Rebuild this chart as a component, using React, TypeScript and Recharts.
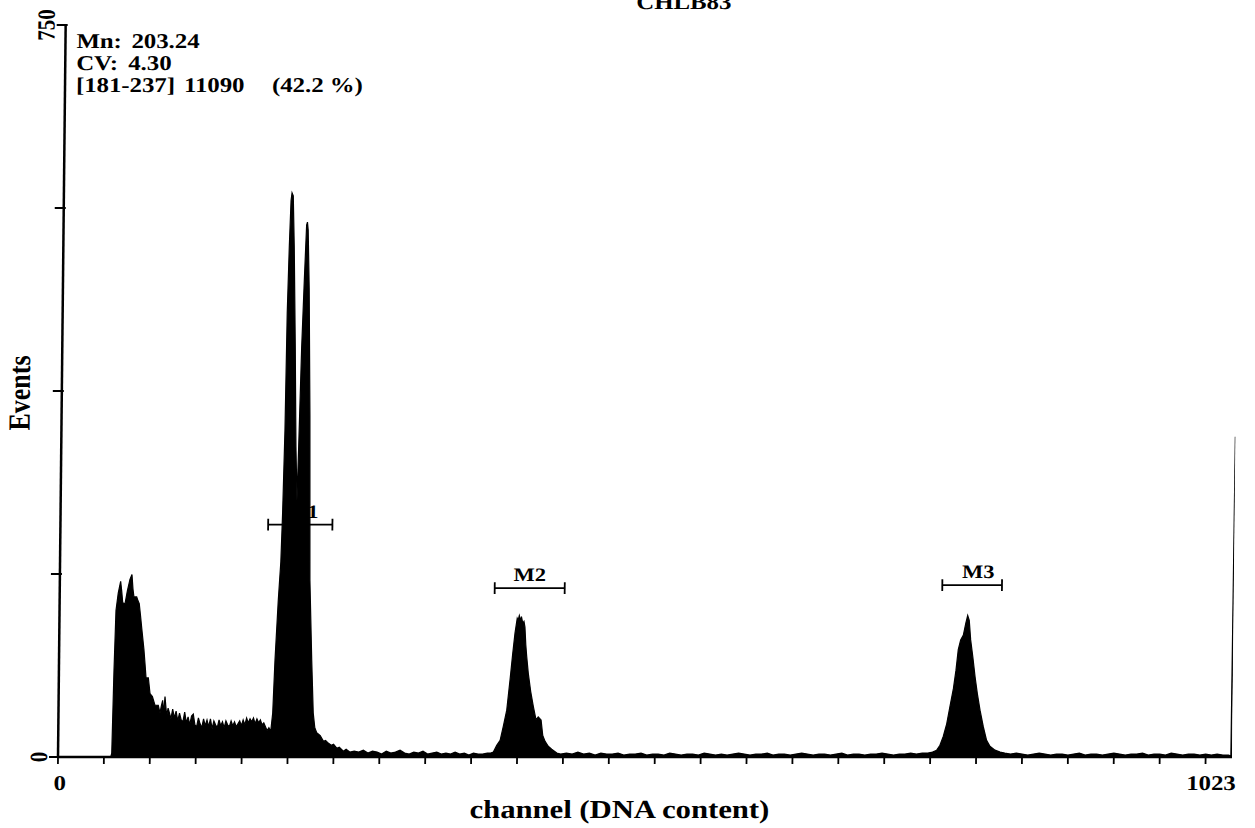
import React from 'react';
import { AreaChart, Area, XAxis, YAxis, ReferenceLine } from 'recharts';

const FONT = '"Liberation Serif", "Times New Roman", serif';
const STRETCH = 1.18;

// DNA histogram, [channel, events]
const belowDebris: [number, number][] = [
  [0, 0], [46, 0],
];

const g1Peak: [number, number][] = [
  [46.8, 4], [48.0, 89], [49.2, 150], [51.0, 168], [53.0, 180], [54.0, 170], [55.0, 158],
  [57.0, 157], [58.9, 170], [61.1, 182], [62.8, 187], [63.8, 172], [64.7, 164], [67.1, 164],
  [68.3, 160], [69.4, 157], [70.6, 145], [71.7, 133], [73.9, 110], [75.0, 95], [76.0, 81],
  [78.0, 81], [79.6, 65], [81.7, 62], [84.0, 53], [86.9, 53], [88.5, 45], [89.5, 52],
  [90.7, 58], [91.6, 44], [92.7, 62], [94.3, 42],
];

const debris: [number, number][] = [
  [95.5, 50], [97, 44], [98, 39], [99.5, 49], [101, 40], [102.5, 47], [104, 37], [105.5, 45],
  [107, 38], [108.5, 36], [110, 46], [111.5, 35], [113, 41], [114.5, 33], [116, 42], [117.5, 44],
  [119, 33], [120.5, 31], [122, 40], [123.5, 34], [125, 30], [126.5, 39], [128, 32], [129.5, 38],
  [131, 31], [132.5, 39], [134, 29], [135.5, 37], [137, 33], [138.5, 30], [140, 38], [141.5, 32],
  [143, 36], [144.5, 30], [146, 37], [147.5, 33], [149, 31], [150.5, 37], [152, 32], [153.5, 36],
  [155, 31], [156.5, 34], [158, 37], [159.5, 32], [161, 38], [162.5, 33], [164, 40], [165.5, 35],
  [167, 39], [168.5, 36], [170, 40], [171.5, 34], [173, 39], [174.5, 35], [176, 38], [177.5, 33],
  [179, 35], [180.5, 31], [182, 27], [183.5, 30],
];

const mainPeak: [number, number][] = [
  [185.1, 26], [186.7, 45], [188.2, 99], [190.5, 160], [192.4, 200], [193.5, 250], [194.8, 335],
  [195.7, 455], [196.9, 523], [198, 570], [198.8, 578], [199.9, 575], [201.2, 523], [203, 420],
  [204.5, 318], [205.9, 263], [206.9, 318], [208.6, 420], [210.3, 489], [211.8, 545], [212.5, 548],
  [213.2, 540], [214.6, 480], [216.4, 350], [217.9, 181], [220.2, 99], [222, 45], [223.5, 30],
  [225.2, 25], [228.3, 22], [231.2, 16], [233, 17], [235.6, 14], [238, 12], [240, 13],
  [242.8, 9], [245, 10], [248.6, 6], [251, 8], [254.4, 5],
];

const tailToM2: [number, number][] = [
  [258, 6], [262, 5], [266, 7], [270, 4], [274, 6], [278, 5], [282, 3], [286, 6], [290, 4],
  [294, 5], [298, 7], [302, 4], [306, 3], [310, 5], [314, 4], [318, 6], [322, 3], [326, 4],
  [330, 5], [334, 3], [338, 4], [342, 3], [346, 5], [350, 3], [354, 4], [358, 2], [362, 4],
  [366, 3], [370, 3], [374, 4], [377, 4],
];

const m2Peak: [number, number][] = [
  [379.3, 5], [382.2, 12], [385.1, 17], [387.7, 31], [390.6, 48], [393.2, 79], [395.3, 106],
  [397.1, 127], [398.9, 142], [399.7, 140], [400.7, 145], [401.7, 141], [402.7, 143], [403.8, 137],
  [404.8, 139], [405.7, 133], [406.6, 115], [407.5, 103], [409.0, 86], [411.3, 67], [413.7, 52],
  [416.2, 38], [418.1, 41], [420.6, 38], [422.2, 22], [424.3, 16], [427.1, 11], [430.1, 8],
  [434.6, 4],
];

const between: [number, number][] = [
  [438, 3], [443, 4], [448, 3], [453, 5], [458, 3], [463, 4], [468, 2], [473, 4], [478, 3],
  [483, 3], [488, 4], [493, 2], [498, 3], [503, 3], [508, 4], [513, 2], [518, 3], [523, 3],
  [528, 2], [533, 4], [538, 3], [543, 2], [548, 3], [553, 3], [558, 2], [563, 4], [568, 3],
  [573, 2], [578, 3], [583, 2], [588, 3], [593, 4], [598, 3], [603, 2], [608, 3], [613, 3],
  [618, 4], [623, 2], [628, 3], [633, 3], [638, 2], [643, 3], [648, 4], [653, 3], [658, 2],
  [663, 3], [668, 3], [673, 2], [678, 3], [683, 4], [688, 2], [693, 3], [698, 3], [703, 2],
  [708, 3], [713, 3], [718, 4], [723, 3], [728, 2], [733, 3], [738, 3], [743, 4], [748, 3],
  [753, 4], [758, 4], [762, 5],
];

const m3Peak: [number, number][] = [
  [765.6, 7], [768.4, 12], [771.2, 21], [774.1, 34], [776.8, 52], [779.6, 70], [781.7, 89],
  [783.5, 110], [785.5, 120], [787.8, 125], [789.8, 137], [791.4, 145], [792.8, 140], [794.2, 120],
  [796.2, 103], [798.4, 82], [800.5, 65], [803.0, 48], [806.0, 31], [809.0, 17], [812.0, 11],
  [816.4, 7], [820.9, 5],
];

const tailToEnd: [number, number][] = [
  [825, 4], [830, 3], [835, 4], [840, 3], [845, 2], [850, 3], [855, 4], [860, 3], [865, 2],
  [870, 3], [875, 3], [880, 2], [885, 3], [890, 4], [895, 2], [900, 3], [905, 3], [910, 2],
  [915, 3], [920, 4], [925, 3], [930, 2], [935, 3], [940, 3], [945, 4], [950, 2], [955, 3],
  [960, 3], [965, 2], [970, 4], [975, 3], [980, 2], [985, 3], [990, 3], [995, 2], [1000, 3],
  [1005, 2], [1010, 3], [1015, 2], [1020, 2], [1022, 1], [1023, 328],
];

const histogram = [
  ...belowDebris, ...g1Peak, ...debris, ...mainPeak, ...tailToM2,
  ...m2Peak, ...between, ...m3Peak, ...tailToEnd,
].map(([ch, n]) => ({ ch, n }));

const xTicks = [
  0, 40, 80, 120, 160, 200, 240, 280, 320, 360, 400, 440, 480, 520, 560, 600, 640, 680,
  720, 760, 800, 840, 880, 920, 960, 1000, 1023,
];
const xTickLabels: Record<number, string> = { 0: '0', 1023: '1023' };
const yTicks = [0, 187.5, 375, 562.5, 750];
const yTickLabels: Record<number, string> = { 0: '0', 750: '750' };

// analysis gates: name, channel range, drawn at event level
const gates = [
  { name: 'M1', from: 181, to: 237, level: 238 },
  { name: 'M2', from: 379, to: 440, level: 173 },
  { name: 'M3', from: 769, to: 821, level: 176 },
];
const gateLabelShift: Record<string, number> = { M1: 2, M2: 0, M3: 6 };

const title = 'CHLB83';
const statLines: [string, string][] = [
  ['Mn:', '203.24'],
  ['CV:', '4.30'],
];
const rangeLine = ['[181-237]', '11090', '(42.2 %)'];
const xTitle = 'channel (DNA content)';
const yTitle = 'Events';

const textStyle: React.CSSProperties = { fontFamily: FONT, fontWeight: 'bold', whiteSpace: 'pre' };

const XTick = (props: any) => {
  const { x, y, payload } = props;
  const v = payload.value;
  const label = xTickLabels[v];
  const isEnd = v === 1023;
  return (
    <g>
      {!isEnd && <line x1={x} x2={x} y1={y} y2={y + 7} stroke="#000" strokeWidth={1.8} />}
      {label && (
        <text
          transform={`translate(${isEnd ? x + 4 : x + 2},${y + 33}) scale(${STRETCH},1)`}
          textAnchor={isEnd ? 'end' : 'middle'}
          fontSize={21}
          fill="#000"
          style={textStyle}
        >
          {label}
        </text>
      )}
    </g>
  );
};

const YTick = (props: any) => {
  const { x, y, payload } = props;
  const label = yTickLabels[payload.value];
  return (
    <g>
      <line x1={x - 9} x2={x + 2} y1={y} y2={y} stroke="#000" strokeWidth={1.8} />
      {label && (
        <text
          transform={`translate(${x - 11},${y}) scale(${STRETCH},1) rotate(-90)`}
          textAnchor="middle"
          fontSize={21}
          fill="#000"
          style={textStyle}
        >
          {label}
        </text>
      )}
    </g>
  );
};

const GateLabel = (props: any) => {
  const { viewBox, text } = props;
  if (!viewBox) return null;
  const cx = viewBox.x + viewBox.width / 2 + (gateLabelShift[text] || 0);
  return (
    <text
      transform={`translate(${cx},${viewBox.y - 7}) scale(${STRETCH},1)`}
      textAnchor="middle"
      fontSize={19}
      fill="#000"
      style={textStyle}
    >
      {text}
    </text>
  );
};

const capHalf = 6;

export default function App() {
  return (
    <div
      style={{
        position: 'absolute',
        left: 0,
        top: 0,
        width: 1255,
        height: 828,
        background: '#fff',
        transform: 'skewX(-0.6deg)',
        transformOrigin: '0px 757px',
      }}
    >
      <AreaChart
        width={1255}
        height={828}
        data={histogram}
        margin={{ top: 25, right: 23, bottom: 31, left: 38 }}
      >
        <XAxis
          dataKey="ch"
          type="number"
          domain={[0, 1023]}
          ticks={xTicks}
          interval={0}
          height={40}
          tickSize={0}
          tickMargin={0}
          tick={<XTick />}
          axisLine={{ stroke: '#000', strokeWidth: 2.5 }}
          tickLine={false}
          allowDataOverflow
        />
        <YAxis
          type="number"
          domain={[0, 750]}
          ticks={yTicks}
          interval={0}
          width={20}
          tickSize={0}
          tickMargin={0}
          tick={<YTick />}
          axisLine={{ stroke: '#000', strokeWidth: 2.5 }}
          tickLine={false}
          allowDataOverflow
        />
        {gates.map((g) => (
          <ReferenceLine
            key={g.name}
            segment={[{ x: g.from, y: g.level }, { x: g.to, y: g.level }]}
            stroke="#000"
            strokeWidth={1.8}
            ifOverflow="visible"
            label={<GateLabel text={g.name} />}
          />
        ))}
        {gates.map((g) => (
          <ReferenceLine
            key={g.name + '-a'}
            segment={[{ x: g.from, y: g.level - capHalf }, { x: g.from, y: g.level + capHalf }]}
            stroke="#000"
            strokeWidth={1.8}
            ifOverflow="visible"
          />
        ))}
        {gates.map((g) => (
          <ReferenceLine
            key={g.name + '-b'}
            segment={[{ x: g.to, y: g.level - capHalf }, { x: g.to, y: g.level + capHalf }]}
            stroke="#000"
            strokeWidth={1.8}
            ifOverflow="visible"
          />
        ))}
        <Area
          dataKey="n"
          type="linear"
          stroke="#000"
          strokeWidth={1.2}
          fill="#000"
          fillOpacity={1}
          dot={false}
          activeDot={false}
          isAnimationActive={false}
        />
      </AreaChart>
      <svg
        width={1255}
        height={828}
        style={{ position: 'absolute', left: 0, top: 0, pointerEvents: 'none' }}
      >
        <text
          transform={`translate(676,9) scale(${STRETCH},1)`}
          textAnchor="middle"
          fontSize={21}
          style={textStyle}
        >
          {title}
        </text>
        {statLines.map(([k, v], i) => (
          <g key={k}>
            <text transform={`translate(69,${48 + i * 22}) scale(${STRETCH},1)`} fontSize={21} style={textStyle}>
              {k}
            </text>
            <text
              transform={`translate(${i === 0 ? 124 : 121},${48 + i * 22}) scale(${STRETCH},1)`}
              fontSize={21}
              style={textStyle}
            >
              {v}
            </text>
          </g>
        ))}
        <text transform={`translate(69,92) scale(${STRETCH},1)`} fontSize={21} style={textStyle}>
          {rangeLine[0]}
        </text>
        <text transform={`translate(177,92) scale(${STRETCH},1)`} fontSize={21} style={textStyle}>
          {rangeLine[1]}
        </text>
        <text transform={`translate(265,92) scale(${STRETCH},1)`} fontSize={21} style={textStyle}>
          {rangeLine[2]}
        </text>
        <text
          transform={`translate(620,818) scale(${STRETCH},1)`}
          textAnchor="middle"
          fontSize={26}
          style={textStyle}
        >
          {xTitle}
        </text>
        <text
          transform={`translate(26,393) scale(${STRETCH},1) rotate(-90)`}
          textAnchor="middle"
          fontSize={26}
          style={textStyle}
        >
          {yTitle}
        </text>
      </svg>
    </div>
  );
}
